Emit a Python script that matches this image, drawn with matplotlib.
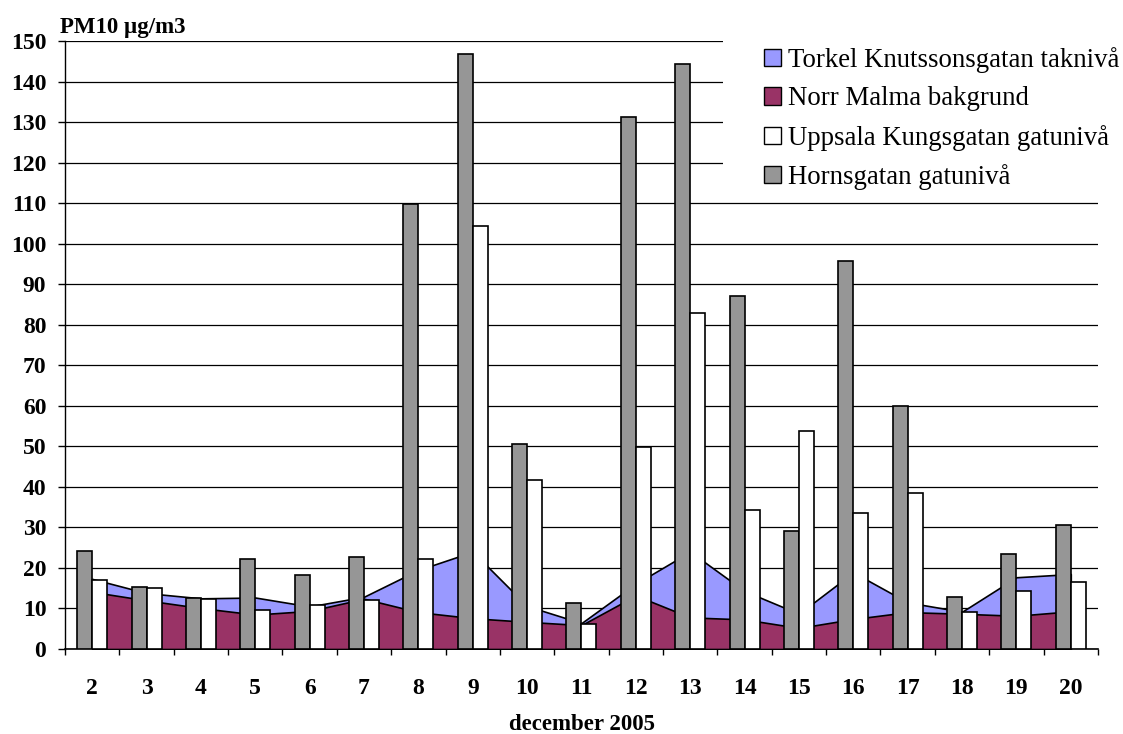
import numpy as np
import matplotlib
matplotlib.use("Agg")
import matplotlib.pyplot as plt
import matplotlib.patches as mpatches

plt.rcParams['font.family'] = ['Liberation Serif', 'DejaVu Serif']

# PM10 daily means, december 2005
days = ['2', '3', '4', '5', '6', '7', '8', '9', '10', '11',
        '12', '13', '14', '15', '16', '17', '18', '19', '20']
torkel = [17.3, 13.8, 12.5, 12.7, 10.5, 12.9, 19.5, 24.0, 10.6, 6.4,
          16.1, 24.0, 14.3, 8.7, 18.9, 11.5, 9.2, 17.7, 18.5]
norr_malma = [14.1, 12.0, 10.1, 8.5, 9.4, 12.4, 9.1, 7.6, 6.7, 5.9,
              13.2, 7.8, 7.3, 5.2, 7.4, 9.1, 8.7, 8.2, 9.3]
uppsala = [17.1, 15.1, 12.3, 9.5, 10.9, 12.2, 22.1, 104.4, 41.7, 6.2,
           49.8, 82.9, 34.3, 53.8, 33.5, 38.5, 9.2, 14.4, 16.5]
hornsgatan = [24.3, 15.3, 12.6, 22.1, 18.3, 22.7, 109.8, 146.8, 50.6, 11.3,
              131.3, 144.3, 87.1, 29.2, 95.7, 60.0, 12.8, 23.4, 30.5]

labels = ['Torkel Knutssonsgatan taknivå', 'Norr Malma bakgrund',
          'Uppsala Kungsgatan gatunivå', 'Hornsgatan gatunivå']
c_torkel = '#9999FF'
c_norr = '#993366'
c_upps = '#FFFFFF'
c_horn = '#969696'

x = np.arange(len(days))
w = 0.276

fig = plt.figure(figsize=(11.23, 7.34), dpi=100)
ax = fig.add_axes([0.0579, 0.1158, 0.9198, 0.8283])

ax.fill_between(x, torkel, color=c_torkel, edgecolor='black', lw=1.2, zorder=2)
ax.fill_between(x, norr_malma, color=c_norr, edgecolor='black', lw=1.2, zorder=3)
ax.bar(x - w, hornsgatan, width=w, align='edge', color=c_horn,
       edgecolor='black', lw=1.2, zorder=4)
ax.bar(x, uppsala, width=w, align='edge', color=c_upps,
       edgecolor='black', lw=1.2, zorder=4)

ax.set_xlim(-0.5, len(days) - 0.5)
ax.set_ylim(0, 150)
ax.set_yticks(np.arange(0, 151, 10))
ax.yaxis.grid(True, color='black', lw=0.9)
ax.set_axisbelow(True)

ax.set_xticks(x)
ax.set_xticklabels(days)
ax.set_xticks(np.arange(-0.5, len(days)), minor=True)
ax.tick_params(axis='x', which='major', length=0, pad=21)
ax.tick_params(axis='x', which='minor', length=4.5, direction='out', width=1)
ax.tick_params(axis='y', length=5, direction='out', width=1, pad=8.5)
for lbl in ax.get_xticklabels() + ax.get_yticklabels():
    lbl.set_fontsize(17)
    lbl.set_fontweight('bold')

for s in ['top', 'right']:
    ax.spines[s].set_visible(False)
ax.spines['left'].set_linewidth(1)
ax.spines['bottom'].set_linewidth(1.2)

fig.text(0.053, 0.963, 'PM10 µg/m3', fontsize=16.5, fontweight='bold',
         ha='left', va='center')
fig.text(0.5183, 0.0136, 'december 2005', fontsize=16.5, fontweight='bold',
         ha='center', va='center')

# white box behind the legend hides the upper gridlines
fig.patches.append(mpatches.Rectangle((723 / 1123, 1 - 188 / 734),
                                      400 / 1123, 160 / 734,
                                      transform=fig.transFigure,
                                      facecolor='white', edgecolor='none',
                                      zorder=1))

handles = [mpatches.Patch(facecolor=c, edgecolor='black', lw=1)
           for c in [c_torkel, c_norr, c_upps, c_horn]]
leg = fig.legend(handles, labels, loc='upper left',
                 bbox_to_anchor=(0.6805, 0.936), fontsize=19.3,
                 frameon=False, handlelength=0.62, handleheight=0.62,
                 handletextpad=0.26, labelspacing=0.5,
                 borderpad=0, borderaxespad=0)

fig.savefig('out.png', dpi=100)
